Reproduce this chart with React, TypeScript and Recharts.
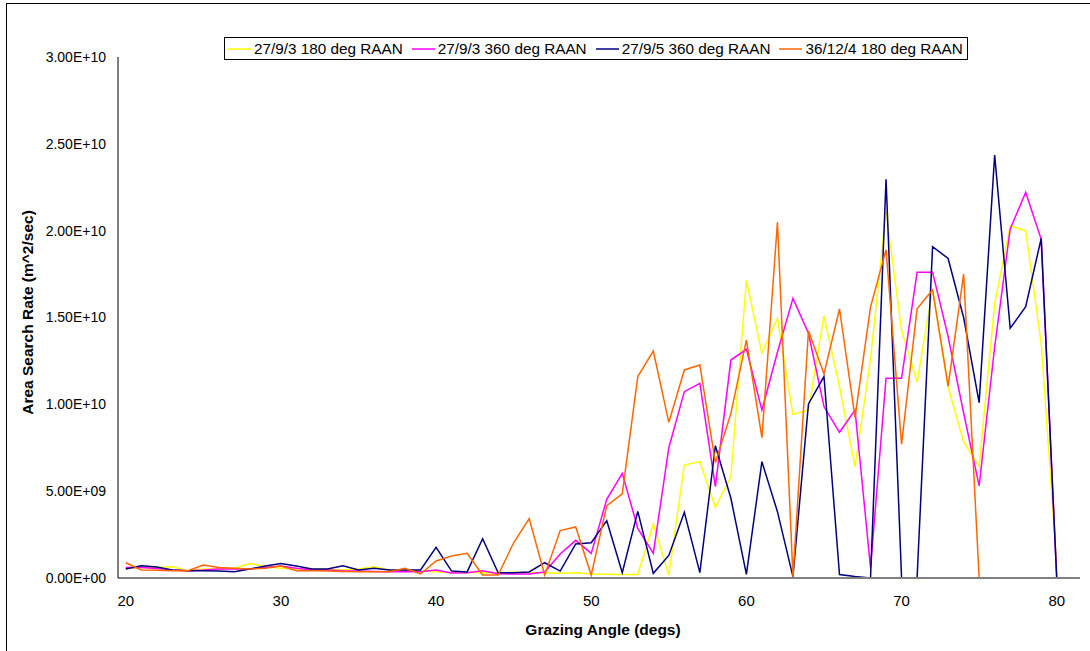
import React from 'react';
import { LineChart, Line, XAxis, YAxis, Legend, Label } from 'recharts';

// grazing angle, degrees
const angles = [
  20, 21, 22, 23, 24, 25, 26, 27, 28, 29, 30, 31, 32, 33, 34, 35, 36, 37, 38, 39,
  40, 41, 42, 43, 44, 45, 46, 47, 48, 49, 50, 51, 52, 53, 54, 55, 56, 57, 58, 59,
  60, 61, 62, 63, 64, 65, 66, 67, 68, 69, 70, 71, 72, 73, 74, 75, 76, 77, 78, 79,
  80, 81,
];

// area search rate, in units of 1E+09 m^2/sec
const s27_9_3_180 = [
  0.56, 0.6, 0.6, 0.65, 0.42, 0.52, 0.52, 0.56, 0.84, 0.65, 0.56, 0.52, 0.5, 0.5, 0.46, 0.52, 0.65, 0.46, 0.46, 0.4,
  0.36, 0.3, 0.33, 0.3, 0.3, 0.33, 0.3, 0.3, 0.28, 0.3, 0.23, 0.22, 0.2, 0.2, 3.1, 0.17, 6.5, 6.7, 4.07, 5.83,
  17.16, 12.94, 14.95, 9.42, 9.67, 15.09, 11.02, 6.41, 12.6, 21.1, 14.28, 11.27, 16.62, 11.0, 7.85, 6.41, 15.8, 20.27, 20.0, 13.5,
  0.8, null,
];
const s27_9_3_360 = [
  0.6, 0.6, 0.54, 0.46, 0.42, 0.46, 0.52, 0.52, 0.52, 0.6, 0.69, 0.56, 0.46, 0.46, 0.42, 0.4, 0.38, 0.36, 0.36, 0.36,
  0.46, 0.29, 0.3, 0.42, 0.25, 0.23, 0.23, 0.35, 1.38, 2.17, 1.42, 4.53, 6.03, 2.86, 1.42, 7.5, 10.73, 11.21, 5.26, 12.55,
  13.17, 9.67, 13.0, 16.1, 14.09, 9.87, 8.39, 9.67, 0.6, 11.5, 11.5, 17.6, 17.6, 13.9, 9.5, 5.3, 13.3, 20.1, 22.2, 19.5,
  0, 0,
];
const s27_9_5_360 = [
  0.52, 0.71, 0.63, 0.46, 0.42, 0.42, 0.4, 0.36, 0.52, 0.69, 0.83, 0.69, 0.52, 0.52, 0.71, 0.46, 0.56, 0.46, 0.46, 0.46,
  1.77, 0.4, 0.35, 2.26, 0.3, 0.3, 0.35, 0.88, 0.4, 1.96, 2.03, 3.3, 0.3, 3.84, 0.27, 1.3, 3.78, 0.31, 7.62, 4.59,
  0.21, 6.7, 3.82, 0.08, 10.02, 11.6, 0.2, 0.08, 0, 22.96, 0, 0, 19.08, 18.4, 15.0, 10.1, 24.36, 14.38, 15.62, 19.56,
  0, null,
];
const s36_12_4_180 = [
  0.88, 0.46, 0.44, 0.42, 0.42, 0.75, 0.6, 0.56, 0.52, 0.56, 0.69, 0.42, 0.42, 0.4, 0.38, 0.36, 0.36, 0.36, 0.56, 0.23,
  0.98, 1.27, 1.42, 0.17, 0.17, 2.03, 3.42, 0.17, 2.73, 2.94, 0.17, 4.17, 4.84, 11.6, 13.07, 8.96, 11.98, 12.26, 6.64, 9.48,
  13.7, 8.08, 20.48, 0.08, 14.24, 11.75, 15.49, 9.25, 15.6, 18.9, 7.7, 15.5, 16.6, 11.05, 17.5, 0, 0, 0, 0, 0,
  0, null,
];

const yTicks = [0, 5e9, 1e10, 1.5e10, 2e10, 2.5e10, 3e10];
const xTicks = [20, 30, 40, 50, 60, 70, 80];

const toRate = (v: number | null) => (v === null ? null : v * 1e9);

const data = angles.map((a, i) => ({
  angle: a,
  a: toRate(s27_9_3_180[i]),
  b: toRate(s27_9_3_360[i]),
  c: toRate(s27_9_5_360[i]),
  d: toRate(s36_12_4_180[i]),
}));

const FONT = '"Liberation Sans", Arial, sans-serif';

const fmtSci = (v: number) => {
  const [m, e] = v.toExponential(2).toUpperCase().split('E');
  const sign = e[0] === '-' ? '-' : '+';
  const digits = e.replace(/[+-]/, '').padStart(2, '0');
  return `${m}E${sign}${digits}`;
};

const LegendBox = (props: any) => {
  const items = props.payload || [];
  return (
    <div
      style={{
        display: 'flex',
        alignItems: 'center',
        border: '1px solid #000',
        height: 21,
        padding: '0 4px 0 3px',
        fontFamily: FONT,
        fontSize: 15.3,
        color: '#000',
        background: '#fff',
        whiteSpace: 'nowrap',
      }}
    >
      {items.map((it: any, i: number) => (
        <div key={i} style={{ display: 'flex', alignItems: 'center', marginRight: i < items.length - 1 ? 9 : 0 }}>
          <svg width={23} height={4} style={{ marginRight: 3 }}>
            <line x1={0} y1={2} x2={23} y2={2} stroke={it.color} strokeWidth={1.5} />
          </svg>
          <span>{it.value}</span>
        </div>
      ))}
    </div>
  );
};

export default function App() {
  return (
    <div style={{ position: 'absolute', left: 0, top: 0, width: 1090, height: 651, overflow: 'hidden', background: '#fff' }}>
      <div
        style={{
          position: 'absolute',
          left: 6,
          top: 3,
          width: 1200,
          height: 800,
          border: '1px solid #000',
        }}
      />
      <div style={{ position: 'absolute', left: 0, top: 0 }}>
        <LineChart width={1090} height={651} data={data} margin={{ top: 57, right: 10, left: 8, bottom: 43 }}>
          <XAxis
            dataKey="angle"
            type="number"
            domain={[19.5, 81.5]}
            ticks={xTicks}
            interval={0}
            height={30}
            tickLine={false}
            tickSize={0}
            tickMargin={17}
            axisLine={{ stroke: '#808080', strokeWidth: 2 }}
            tick={{ fill: '#000', fontSize: 15, fontFamily: FONT }}
          >
            <Label
              content={({ viewBox }: any) => (
                <text
                  x={viewBox.x + viewBox.width / 2 + 4}
                  y={viewBox.y + 57}
                  textAnchor="middle"
                  fontFamily={FONT}
                  fontSize={15.5}
                  fontWeight="bold"
                  fill="#000"
                >
                  Grazing Angle (degs)
                </text>
              )}
            />
          </XAxis>
          <YAxis
            type="number"
            domain={[0, 3e10]}
            ticks={yTicks}
            interval={0}
            width={110}
            tickLine={false}
            tickSize={0}
            tickMargin={12}
            tickFormatter={fmtSci}
            axisLine={{ stroke: '#000', strokeWidth: 1 }}
            tick={{ fill: '#000', fontSize: 14, fontFamily: FONT }}
          >
            <Label
              content={({ viewBox }: any) => {
                const cx = 27;
                const cy = viewBox.y + viewBox.height / 2 - 5;
                return (
                  <text
                    x={cx}
                    y={cy}
                    transform={`rotate(-90, ${cx}, ${cy})`}
                    textAnchor="middle"
                    dominantBaseline="central"
                    fontFamily={FONT}
                    fontSize={15.5}
                    fontWeight="bold"
                    fill="#000"
                  >
                    Area Search Rate (m^2/sec)
                  </text>
                );
              }}
            />
          </YAxis>
          <Legend
            layout="horizontal"
            verticalAlign="middle"
            align="center"
            content={<LegendBox />}
            wrapperStyle={{ left: 224, top: 37, width: 'auto', height: 'auto' }}
          />
          <Line dataKey="a" name="27/9/3 180 deg RAAN" stroke="#FFFF00" strokeWidth={1.5} dot={false} isAnimationActive={false} />
          <Line dataKey="b" name="27/9/3 360 deg RAAN" stroke="#FF00FF" strokeWidth={1.5} dot={false} isAnimationActive={false} />
          <Line dataKey="c" name="27/9/5 360 deg RAAN" stroke="#000080" strokeWidth={1.5} dot={false} isAnimationActive={false} />
          <Line dataKey="d" name="36/12/4 180 deg RAAN" stroke="#FF6600" strokeWidth={1.5} dot={false} isAnimationActive={false} />
        </LineChart>
      </div>
    </div>
  );
}
